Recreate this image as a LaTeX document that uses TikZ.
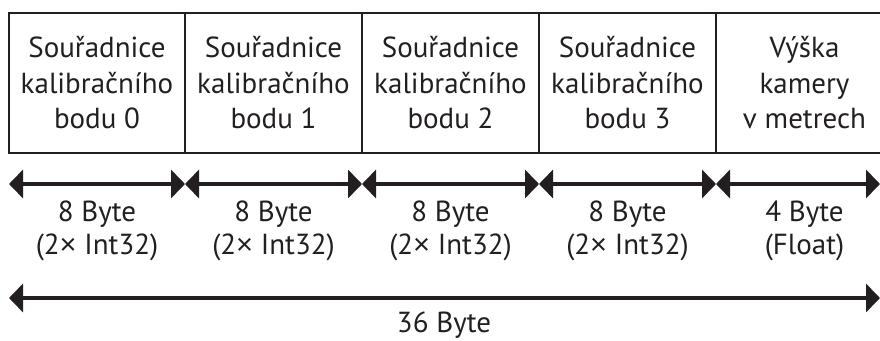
\documentclass[tikz,border=0pt]{standalone}
\usepackage{fontspec}
\setmainfont{PT Sans}
\newfontfamily\timesfont{Liberation Sans}
\newcommand{\tms}{{\timesfont ×}}
\usetikzlibrary{arrows.meta}
\definecolor{ink}{HTML}{231F20}
\tikzset{
  x=1pt, y=1pt,
  cell/.style={draw=ink, line width=2.2pt, minimum height=140pt, inner sep=0pt,
    text=ink, align=center, font=\fontsize{29}{35.5}\selectfont},
  lbl/.style={text=ink, align=center, inner sep=0pt, font=\fontsize{29}{33}\selectfont},
  dim/.style={draw=ink, line width=4.5pt, {Triangle[length=14pt,width=28pt]}-{Triangle[length=14pt,width=28pt]}},
}
\begin{document}
\begin{tikzpicture}
\useasboundingbox (0,0) rectangle (880,-340);
\node[cell, minimum width=176pt] (c0) at (97,-83) {Souřadnice\\kalibračního\\bodu 0};
\node[cell, minimum width=177pt] (c1) at (273.5,-83) {Souřadnice\\kalibračního\\bodu 1};
\node[cell, minimum width=177pt] (c2) at (450.5,-83) {Souřadnice\\kalibračního\\bodu 2};
\node[cell, minimum width=177pt] (c3) at (627.5,-83) {Souřadnice\\kalibračního\\bodu 3};
\node[cell, minimum width=177pt] (c4) at (804.5,-83) {Výška\\kamery\\v metrech};
\coordinate (a0) at (9,-184);
\coordinate (a1) at (185,-184);
\coordinate (a2) at (362,-184);
\coordinate (a3) at (539,-184);
\coordinate (a4) at (716,-184);
\coordinate (a5) at (880,-184);
\draw[dim] (a0) -- (a1);
\draw[dim] (a1) -- (a2);
\draw[dim] (a2) -- (a3);
\draw[dim] (a3) -- (a4);
\draw[dim] (a4) -- (a5);
\node[lbl] (l0) at (97,-231) {8 Byte\\(2\tms{} Int32)};
\node[lbl] (l1) at (273.5,-231) {8 Byte\\(2\tms{} Int32)};
\node[lbl] (l2) at (450.5,-231) {8 Byte\\(2\tms{} Int32)};
\node[lbl] (l3) at (627.5,-231) {8 Byte\\(2\tms{} Int32)};
\node[lbl] (l4) at (804.5,-231) {4 Byte\\(Float)};
\coordinate (b0) at (9,-298);
\coordinate (b1) at (880,-298);
\draw[dim] (b0) -- (b1);
\node[lbl] (tot) at (444,-325) {36 Byte};
\end{tikzpicture}
\end{document}
